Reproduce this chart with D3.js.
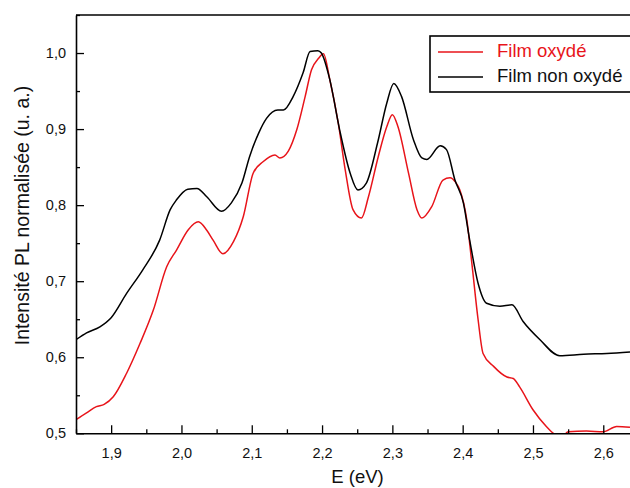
<!DOCTYPE html>
<html><head><meta charset="utf-8">
<script src="https://cdn.jsdelivr.net/npm/d3@7"></script>
<style>html,body{margin:0;padding:0;background:#fff;overflow:hidden}svg{display:block}</style>
</head><body>
<script>
const energy_black = [1.850,1.865,1.884,1.900,1.922,1.945,1.969,1.984,1.993,2.009,2.022,2.036,2.057,2.071,2.086,2.097,2.110,2.121,2.137,2.145,2.159,2.173,2.183,2.194,2.199,2.211,2.225,2.240,2.251,2.263,2.279,2.292,2.302,2.313,2.330,2.342,2.349,2.368,2.377,2.389,2.401,2.410,2.422,2.434,2.453,2.470,2.486,2.510,2.538,2.572,2.605,2.638];
const pl_nonOxyde = [0.623,0.632,0.640,0.652,0.684,0.715,0.754,0.794,0.807,0.821,0.822,0.811,0.792,0.803,0.829,0.864,0.895,0.914,0.925,0.925,0.943,0.974,1.002,1.003,1.000,0.965,0.899,0.842,0.820,0.829,0.882,0.934,0.960,0.943,0.886,0.862,0.860,0.878,0.873,0.833,0.803,0.754,0.697,0.671,0.667,0.669,0.647,0.623,0.602,0.604,0.605,0.607];
const energy_red = [1.850,1.865,1.879,1.890,1.903,1.922,1.941,1.960,1.979,1.993,2.010,2.024,2.036,2.045,2.059,2.074,2.088,2.102,2.116,2.133,2.140,2.152,2.164,2.176,2.185,2.195,2.202,2.211,2.223,2.233,2.244,2.256,2.266,2.280,2.292,2.300,2.308,2.323,2.335,2.342,2.356,2.372,2.382,2.390,2.396,2.406,2.413,2.422,2.429,2.444,2.463,2.472,2.481,2.500,2.519,2.529,2.540,2.550,2.576,2.600,2.619,2.638];
const pl_oxyde = [0.518,0.527,0.535,0.538,0.548,0.579,0.618,0.662,0.719,0.741,0.768,0.778,0.767,0.754,0.736,0.752,0.785,0.842,0.857,0.866,0.862,0.871,0.899,0.943,0.978,0.993,0.999,0.965,0.908,0.846,0.794,0.783,0.811,0.864,0.903,0.919,0.903,0.842,0.794,0.783,0.798,0.833,0.836,0.830,0.820,0.780,0.724,0.649,0.605,0.588,0.574,0.572,0.561,0.531,0.509,0.500,0.494,0.502,0.503,0.502,0.509,0.508];
const xTickValues = [1.9,2.0,2.1,2.2,2.3,2.4,2.5,2.6];
const yTickValues = [0.5,0.6,0.7,0.8,0.9,1.0];
const seriesNames = ["Film oxydé","Film non oxydé"];
const seriesColors = ["#e8141a","#000000"];

const W=630,H=488;
const svg=d3.select("body").append("svg").attr("width",W).attr("height",H).style("font-family","Arial, 'Liberation Sans', sans-serif");
const L=76,T=15,B=433.3,R=631.4;
const x=d3.scaleLinear().domain([1.85,2.64]).range([L,R]);
const y=d3.scaleLinear().domain([0.5,1.05]).range([B,T]);
const fmt=v=>d3.format(".1f")(v).replace(".",",");

svg.append("defs").append("clipPath").attr("id","clip").append("rect").attr("x",L).attr("y",T).attr("width",R-L).attr("height",B-T);

const line=d3.line().x(d=>x(d[0])).y(d=>y(d[1])).curve(d3.curveMonotoneX);
const g=svg.append("g").attr("clip-path","url(#clip)");
const red=energy_red.map((e,i)=>[e,pl_oxyde[i]]);
const black=energy_black.map((e,i)=>[e,pl_nonOxyde[i]]);
g.append("path").datum(red).attr("d",line).attr("fill","none").attr("stroke",seriesColors[0]).attr("stroke-width",1.5).attr("stroke-linejoin","round");
g.append("path").datum(black).attr("d",line).attr("fill","none").attr("stroke",seriesColors[1]).attr("stroke-width",1.5).attr("stroke-linejoin","round");

// minor ticks
const xMinor=d3.range(1.85,2.64,0.1).map(v=>+v.toFixed(2));
const yMinor=[0.55,0.65,0.75,0.85,0.95,1.05];
svg.append("g").attr("transform",`translate(0,${B})`).call(d3.axisBottom(x).tickValues(xMinor).tickSize(-4).tickFormat("")).call(s=>s.select(".domain").remove()).selectAll("line").attr("stroke-width",1.3);
svg.append("g").attr("transform",`translate(${L},0)`).call(d3.axisLeft(y).tickValues(yMinor).tickSize(-4).tickFormat("")).call(s=>s.select(".domain").remove()).selectAll("line").attr("stroke-width",1.3);

const xa=svg.append("g").attr("transform",`translate(0,${B})`).call(d3.axisBottom(x).tickValues(xTickValues).tickSizeInner(-8).tickSizeOuter(0).tickPadding(14).tickFormat(fmt));
xa.selectAll("text").attr("font-size","14.5px").attr("font-family","Arial, 'Liberation Sans', sans-serif").attr("fill","#111");
xa.selectAll("line").attr("stroke-width",1.3);
xa.select(".domain").attr("stroke-width",1.6);

const ya=svg.append("g").attr("transform",`translate(${L},0)`).call(d3.axisLeft(y).tickValues(yTickValues).tickSizeInner(-8).tickSizeOuter(0).tickPadding(10).tickFormat(fmt));
ya.selectAll("text").attr("font-size","14.5px").attr("font-family","Arial, 'Liberation Sans', sans-serif").attr("fill","#111");
ya.selectAll("line").attr("stroke-width",1.3);
ya.select(".domain").attr("stroke-width",1.6);

// top border
svg.append("line").attr("x1",L).attr("x2",W).attr("y1",T).attr("y2",T).attr("stroke","#000").attr("stroke-width",1.6);

// titles
svg.append("text").attr("x",357.5).attr("y",483).attr("text-anchor","middle").attr("font-size","18.5px").attr("fill","#111").text("E (eV)");
svg.append("text").attr("transform","translate(29,215.5) rotate(-90)").attr("text-anchor","middle").attr("font-size","19.5px").attr("fill","#111").text("Intensité PL normalisée (u. a.)");

// legend
const lg=svg.append("g");
lg.append("rect").attr("x",430).attr("y",36).attr("width",220).attr("height",56).attr("fill","#fff").attr("stroke","#000").attr("stroke-width",1.6);
const ly=[52,77],ty=[57,81.5];
seriesNames.forEach((n,i)=>{
  lg.append("line").attr("x1",438).attr("x2",483).attr("y1",ly[i]).attr("y2",ly[i]).attr("stroke",seriesColors[i]).attr("stroke-width",1.5);
  lg.append("text").attr("x",497).attr("y",ty[i]).attr("font-size","18.5px").attr("fill",i===0?seriesColors[0]:"#111").text(n);
});
</script>
</body></html>
